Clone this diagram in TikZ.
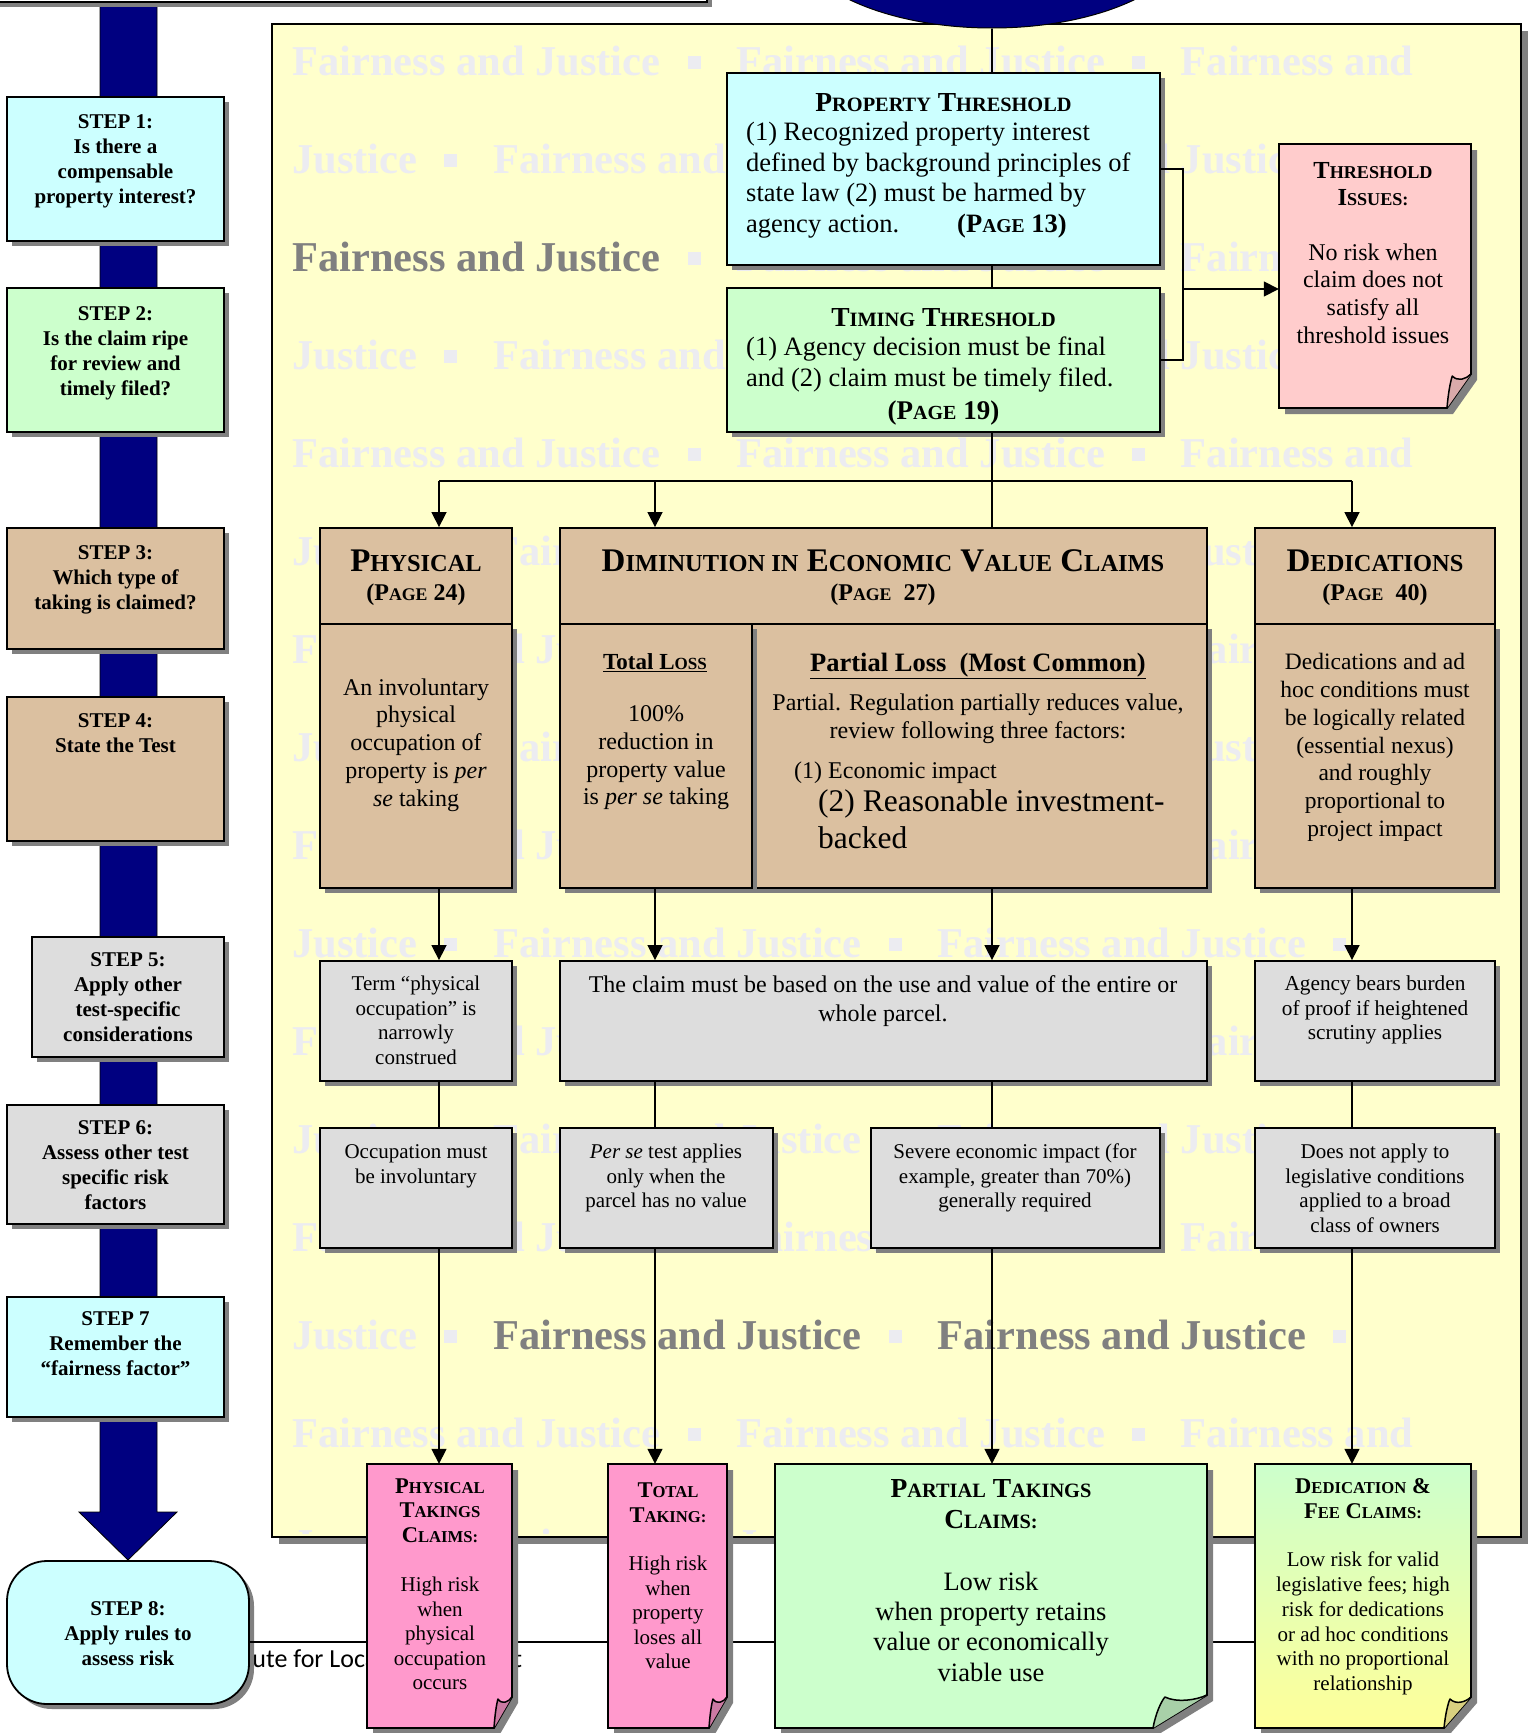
\documentclass[tikz,border=0pt]{standalone}
\usepackage{fontspec}
\usepackage{graphicx}
\setmainfont{Liberation Serif}
\newfontfamily\carlito{Carlito}
\usetikzlibrary{shadows,arrows.meta,calc,fit,shapes.geometric}

\definecolor{navy}{RGB}{0,0,128}
\definecolor{cyanbox}{RGB}{204,255,255}
\definecolor{greenbox}{RGB}{204,255,204}
\definecolor{tanbox}{RGB}{219,192,160}
\definecolor{graybox}{RGB}{221,221,221}
\definecolor{pinkbox}{RGB}{255,153,204}
\definecolor{pinkflap}{RGB}{204,122,163}
\definecolor{pinklight}{RGB}{255,204,204}
\definecolor{pinklightflap}{RGB}{217,170,170}
\definecolor{greenflap}{RGB}{168,208,168}
\definecolor{yellownote}{RGB}{255,255,153}
\definecolor{khakiflap}{RGB}{216,208,128}
\definecolor{yellowbg}{RGB}{255,255,204}
\definecolor{wmlight}{RGB}{236,236,241}
\definecolor{wmdark}{RGB}{128,128,128}
\definecolor{shadowgray}{RGB}{128,128,128}

\newcommand{\sm}[1]{\scalebox{0.74}{#1}}
\newcommand{\fsz}[2]{\fontsize{#1}{#2}\selectfont}
\newcommand{\wmsep}{\hspace{27pt}\rule[6pt]{13pt}{13pt}\hspace{36pt}}
\newcommand{\FJ}{Fairness and Justice}
\newcommand{\FJd}{\textcolor{wmdark}{Fairness and Justice}}

% name, x1, y1, x2, y2, fold-x, fold-y, fill style, flap colour
\newcommand{\notebox}[9]{%
  \fill[shadowgray] ({#2+6},{#3+6}) -- ({#4+6},{#3+6}) -- ({#4+6},{#5-#7+6}) -- ({#4-#6+6},{#5+6}) -- ({#2+6},{#5+6}) -- cycle;
  \path[#8, draw=black, line width=1.8pt] (#2,#3) -- (#4,#3) -- (#4,{#5-#7}) -- ({#4-#6},#5) -- (#2,#5) -- cycle;
  \filldraw[fill=#9, draw=black, line width=1.5pt, line join=round] ({#4-#6},#5) .. controls ({#4-0.95*#6},{#5-0.45*#7}) and ({#4-0.85*#6},{#5-0.8*#7}) .. ({#4-0.78*#6},{#5-#7+2}) .. controls ({#4-0.55*#6},{#5-#7+8}) and ({#4-0.2*#6},{#5-#7+5}) .. (#4,{#5-#7});
  \node[fit={(#2,#3) (#4,#5)}, inner sep=0pt] (#1) {};
}

\tikzset{
  box/.style={draw=black, line width=1.8pt, rectangle, inner sep=0pt},
  shad/.style={drop shadow={shadow xshift=5pt,shadow yshift=-5pt,fill=shadowgray,opacity=1}},
  conn/.style={line width=1.5pt, draw=black},
  arr/.style={conn, -{Triangle[length=15pt,width=15pt]}},
  tx/.style={align=center, inner sep=0pt, yshift=-6pt, execute at begin node=\strut, execute at end node=\strut},
  txl/.style={tx, align=left, anchor=west},
  stepf/.style={tx, font={\fsz{21}{25}\bfseries}},
  wm/.style={anchor=base west, inner sep=0pt, text=wmlight, font={\fsz{42.5}{50}\bfseries}},
}

\begin{document}
\begin{tikzpicture}[x=1pt,y=-1pt]
\useasboundingbox (0,0) rectangle (1527,1733);

% left navy arrow
\filldraw[fill=navy, draw=black, line width=0.8pt] (100,-10) -- (157,-10) -- (157,1512) -- (177,1512) -- (128,1560) -- (79,1512) -- (100,1512) -- cycle;
% top bar (bottom edge of a box above the page)
\draw[line width=2.5pt, fill=white, shad] (-20,-100) rectangle (707,2);

% footer text, partly hidden
\node[anchor=base west, inner sep=0pt, font={\carlito\fsz{26}{30}}] (ilg) at (199,1667) {Institute for Local Government};

% yellow background panel
\draw[line width=1.8pt, fill=yellowbg, drop shadow={shadow xshift=7pt,shadow yshift=-7pt,fill=shadowgray,opacity=1}] (272,24) rectangle (1521,1537);

% watermark
\begin{scope}
\clip (273,25) rectangle (1520,1533);
\node[wm] (w1) at (292,75) {\FJ\wmsep\FJ\wmsep Fairness and};
\node[wm] (w2) at (292,173) {Justice\wmsep\FJ\wmsep\FJ\wmsep};
\node[wm] (w3) at (292,271) {\FJd\wmsep\FJ\wmsep Fairness and};
\node[wm] (w4) at (292,369) {Justice\wmsep\FJ\wmsep\FJ\wmsep};
\node[wm] (w5) at (292,467) {\FJ\wmsep\FJ\wmsep Fairness and};
\node[wm] (w6) at (292,565) {Justice\wmsep\FJ\wmsep\FJ\wmsep};
\node[wm] (w7) at (292,663) {\FJ\wmsep\FJ\wmsep Fairness and};
\node[wm] (w8) at (292,761) {Justice\wmsep\FJ\wmsep\FJ\wmsep};
\node[wm] (w9) at (292,859) {\FJ\wmsep\FJ\wmsep Fairness and};
\node[wm] (w10) at (292,957) {Justice\wmsep\FJ\wmsep\FJ\wmsep};
\node[wm] (w11) at (292,1055) {\FJ\wmsep\FJ\wmsep Fairness and};
\node[wm] (w12) at (292,1153) {Justice\wmsep\FJ\wmsep\FJ\wmsep};
\node[wm] (w13) at (292,1251) {\FJ\wmsep\FJ\wmsep Fairness and};
\node[wm] (w14) at (292,1349) {Justice\wmsep\FJd\wmsep\FJd\wmsep};
\node[wm] (w15) at (292,1447) {\FJ\wmsep\FJ\wmsep Fairness and};
\node[wm] (w16) at (292,1558) {Justice\wmsep\FJ\wmsep\FJ\wmsep};
\end{scope}

% top ellipse
\node[ellipse, fill=navy, draw=black, line width=1pt, minimum width=400pt, minimum height=190pt, inner sep=0pt] (ell) at (992,-67) {};

% ---------------- step boxes ----------------
\node[box, shad, fill=cyanbox, fit={(7,97) (224,241)}] (s1) {};
\node[box, shad, fill=greenbox, fit={(7,288) (224,432)}] (s2) {};
\node[box, shad, fill=tanbox, fit={(7,528) (224,649)}] (s3) {};
\node[box, shad, fill=tanbox, fit={(7,697) (224,841)}] (s4) {};
\node[box, shad, fill=graybox, fit={(32,937) (224,1057)}] (s5) {};
\node[box, shad, fill=graybox, fit={(7,1105) (224,1224)}] (s6) {};
\node[box, shad, fill=cyanbox, fit={(7,1297) (224,1417)}] (s7) {};
\node[box, shad, fill=cyanbox, rounded corners=40pt, fit={(7,1561) (249,1704)}] (s8) {};

\node[stepf] (s1t) at (115.5,157) {STEP 1:\\Is there a\\compensable\\property interest?};
\node[stepf] (s2t) at (115.5,348.5) {STEP 2:\\Is the claim ripe\\for review and\\timely filed?};
\node[stepf] (s3t) at (115.5,575.5) {STEP 3:\\Which type of\\taking is claimed?};
\node[stepf] (s4t) at (115.5,730.5) {STEP 4:\\State the Test};
\node[stepf] (s5t) at (128,995) {STEP 5:\\Apply other\\test-specific\\considerations};
\node[stepf] (s6t) at (115.5,1163) {STEP 6:\\Assess other test\\specific risk\\factors};
\node[stepf] (s7t) at (115.5,1341.5) {STEP 7\\Remember the\\“fairness factor”};
\node[stepf] (s8t) at (128,1631) {STEP 8:\\Apply rules to\\assess risk};

% bottom line (behind the notes)
\coordinate (blend) at (1363,1642);
\draw[conn] ($(s8.east)+(0,9.5)$) -- (blend);

% ---------------- thresholds ----------------
\node[box, shad, fill=cyanbox, fit={(727,73) (1160,265)}] (prop) {};
\node[box, shad, fill=greenbox, fit={(727,288) (1160,432)}] (tt) {};
\node[tx, font={\fsz{27.5}{31}\bfseries}] (proph) at (943.5,99) {P\sm{ROPERTY} T\sm{HRESHOLD}};
\node[txl, font={\fsz{26.5}{30.7}}] (propb) at (746,176) {(1) Recognized property interest\\defined by background principles of\\state law (2) must be harmed by\\agency action.\hspace{58pt}\textbf{(P\sm{AGE} 13)}};
\node[tx, font={\fsz{27.5}{31}\bfseries}] (tth) at (943.5,314) {T\sm{IMING} T\sm{HRESHOLD}};
\node[txl, font={\fsz{26.5}{30.7}}] (ttb) at (746,360.5) {(1) Agency decision must be final\\and (2) claim must be timely filed.};
\node[tx, font={\fsz{27}{31}\bfseries}] (ttp) at (943.5,407) {(P\sm{AGE} 19)};

\notebox{thi}{1279}{144}{1471}{408}{24}{34}{fill=pinklight}{pinklightflap}
\node[tx, font={\fsz{24.5}{27}\bfseries}] (thih) at (1373,182.5) {T\sm{HRESHOLD}\\I\sm{SSUES:}};
\node[tx, font={\fsz{24}{27.6}}] (thib) at (1373,291.5) {No risk when\\claim does not\\satisfy all\\threshold issues};

% ---------------- type-of-taking headers ----------------
\node[box, fill=tanbox, fit={(320,528) (512,624)}] (phh) {};
\node[box, fill=tanbox, fit={(560,528) (1207,624)}] (dimh) {};
\node[box, fill=tanbox, fit={(1255,528) (1495,624)}] (dedh) {};
\node[tx, font={\fsz{33}{37}\bfseries}] (phh1) at (416,558) {P\sm{HYSICAL}};
\node[tx, font={\fsz{24}{28}\bfseries}] (phh2) at (416,589) {(P\sm{AGE} 24)};
\node[tx, font={\fsz{33}{37}\bfseries}] (dimh1) at (883,558) {D\sm{IMINUTION IN} E\sm{CONOMIC} V\sm{ALUE} C\sm{LAIMS}};
\node[tx, font={\fsz{24}{28}\bfseries}] (dimh2) at (883,589) {(P\sm{AGE}\ \ 27)};
\node[tx, font={\fsz{33}{37}\bfseries}] (dedh1) at (1375,558) {D\sm{EDICATIONS}};
\node[tx, font={\fsz{24}{28}\bfseries}] (dedh2) at (1375,589) {(P\sm{AGE}\ \ 40)};

% ---------------- row 1 bodies ----------------
\node[box, shad, fill=tanbox, fit={(320,624) (512,888)}] (phb) {};
\node[box, shad, fill=tanbox, fit={(752,624) (1207,888)}] (plb) {};
\node[box, shad, fill=tanbox, fit={(560,624) (752,888)}] (tlb) {};
\node[box, shad, fill=tanbox, fit={(1255,624) (1495,888)}] (dedb) {};

\node[tx, font={\fsz{24}{27.8}}] (phbt) at (416,740.5) {An involuntary\\physical\\occupation of\\property is \textit{per}\\\textit{se} taking};
\node[tx, font={\fsz{23}{27}\bfseries}] (tlh) at (655,658) {\underline{Total L\sm{OSS}}};
\node[tx, font={\fsz{24}{27.6}}] (tlbt) at (656,753.5) {100\%\\reduction in\\property value\\is \textit{per se} taking};
\node[tx, font={\fsz{26.5}{30}\bfseries}] (plh) at (978,659) {\underline{Partial Loss\ \ (Most Common)}};
\node[tx, font={\fsz{24}{28}}] (plt1) at (978,714) {Partial. Regulation partially reduces value,\\review following three factors:};
\node[txl, font={\fsz{24}{28}}] (plt2) at (794,767) {(1) Economic impact};
\node[txl, font={\fsz{31.5}{36.5}}] (plt3) at (818,818.5) {(2) Reasonable investment-\\backed};
\node[tx, font={\fsz{23.5}{27.7}}] (dedbt) at (1375,743) {Dedications and ad\\hoc conditions must\\be logically related\\(essential nexus)\\and roughly\\proportional to\\project impact};

% ---------------- row 2 ----------------
\node[box, shad, fill=graybox, fit={(320,961) (512,1081)}] (phr2) {};
\node[box, shad, fill=graybox, fit={(560,961) (1207,1081)}] (dimr2) {};
\node[box, shad, fill=graybox, fit={(1255,961) (1495,1081)}] (dedr2) {};
\node[tx, font={\fsz{21}{24.6}}] (phr2t) at (416,1018) {Term “physical\\occupation” is\\narrowly\\construed};
\node[tx, font={\fsz{24}{29}}] (dimr2t) at (883,996.5) {The claim must be based on the use and value of the entire or\\whole parcel.};
\node[tx, font={\fsz{21.3}{24.6}}] (dedr2t) at (1375,1005.5) {Agency bears burden\\of proof if heightened\\scrutiny applies};

% ---------------- row 3 ----------------
\node[box, shad, fill=graybox, fit={(320,1128) (512,1248)}] (phr3) {};
\node[box, shad, fill=graybox, fit={(560,1128) (773,1248)}] (pers) {};
\node[box, shad, fill=graybox, fit={(871,1128) (1160,1248)}] (sev) {};
\node[box, shad, fill=graybox, fit={(1255,1128) (1495,1248)}] (dna) {};
\node[tx, font={\fsz{21}{24.6}}] (phr3t) at (416,1161.5) {Occupation must\\be involuntary};
\node[tx, font={\fsz{21}{24.6}}] (perst) at (666,1173.5) {\textit{Per se} test applies\\only when the\\parcel has no value};
\node[tx, font={\fsz{21}{24.6}}] (sevt) at (1015,1173.5) {Severe economic impact (for\\example, greater than 70\%)\\generally required};
\node[tx, font={\fsz{21}{24.6}}] (dnat) at (1375,1185.8) {Does not apply to\\legislative conditions\\applied to a broad\\class of owners};

% ---------------- row 4 notes ----------------
\notebox{ptk}{367}{1464}{512}{1728}{18}{31}{fill=pinkbox}{pinkflap}
\notebox{ttk}{608}{1464}{727}{1728}{18}{31}{fill=pinkbox}{pinkflap}
\notebox{partk}{775}{1464}{1207}{1728}{54}{33}{fill=greenbox}{greenflap}
\notebox{dfk}{1255}{1464}{1471}{1728}{27}{31}{top color=greenbox, bottom color=yellownote}{khakiflap}

\node[tx, font={\fsz{22.5}{24.3}\bfseries}] (ptkh) at (440,1508) {P\sm{HYSICAL}\\T\sm{AKINGS}\\C\sm{LAIMS:}};
\node[tx, font={\fsz{21}{24.6}}] (ptkb) at (440,1631) {High risk\\when\\physical\\occupation\\occurs};
\node[tx, font={\fsz{22.5}{24.7}\bfseries}] (ttkh) at (668,1500.5) {T\sm{OTAL}\\T\sm{AKING:}};
\node[tx, font={\fsz{21}{24.5}}] (ttkb) at (668,1610) {High risk\\when\\property\\loses all\\value};
\node[tx, font={\fsz{27.5}{31}\bfseries}] (partkh) at (991,1502.5) {P\sm{ARTIAL} T\sm{AKINGS}\\C\sm{LAIMS:}};
\node[tx, font={\fsz{26.5}{30.3}}] (partkb) at (991,1625) {Low risk\\when property retains\\value or economically\\viable use};
\node[tx, font={\fsz{22.5}{25}\bfseries}] (dfkh) at (1363,1496.5) {D\sm{EDICATION} \&\\F\sm{EE} C\sm{LAIMS:}};
\node[tx, font={\fsz{21}{24.8}}] (dfkb) at (1363,1619) {Low risk for valid\\legislative fees; high\\risk for dedications\\or ad hoc conditions\\with no proportional\\relationship};

% ---------------- connectors ----------------
\coordinate (b1) at (439,481);
\coordinate (b2) at (655,481);
\coordinate (b3) at (992,481);
\coordinate (b4) at (1352,481);
\coordinate (brk) at (1182,289);

\draw[conn] (ell.south) -- (ell.south |- prop.north);
\draw[conn] (ell.south |- prop.south) -- (ell.south |- tt.north);
\draw[conn] (ell.south |- tt.south) -- (ell.south |- dimh.north);
\draw[conn] (prop.east) -- ++(22,0) |- (tt.east);
\draw[arr] (brk) -- (brk -| thi.west);

\draw[conn] (b1) -- (b4);
\draw[arr] (b1) -- (b1 |- phh.north);
\draw[arr] (b2) -- (b2 |- dimh.north);
\draw[arr] (b4) -- (b4 |- dedh.north);

\draw[arr] (b1 |- phb.south) -- (b1 |- phr2.north);
\draw[arr] (b2 |- tlb.south) -- (b2 |- dimr2.north);
\draw[arr] (b3 |- plb.south) -- (b3 |- dimr2.north);
\draw[arr] (b4 |- dedb.south) -- (b4 |- dedr2.north);

\draw[conn] (b1 |- phr2.south) -- (b1 |- phr3.north);
\draw[conn] (b2 |- dimr2.south) -- (b2 |- pers.north);
\draw[conn] (b3 |- dimr2.south) -- (b3 |- sev.north);
\draw[conn] (b4 |- dedr2.south) -- (b4 |- dna.north);

\draw[arr] (b1 |- phr3.south) -- (b1 |- ptk.north);
\draw[arr] (b2 |- pers.south) -- (b2 |- ttk.north);
\draw[arr] (b3 |- sev.south) -- (b3 |- partk.north);
\draw[arr] (b4 |- dna.south) -- (b4 |- dfk.north);
\end{tikzpicture}
\end{document}
